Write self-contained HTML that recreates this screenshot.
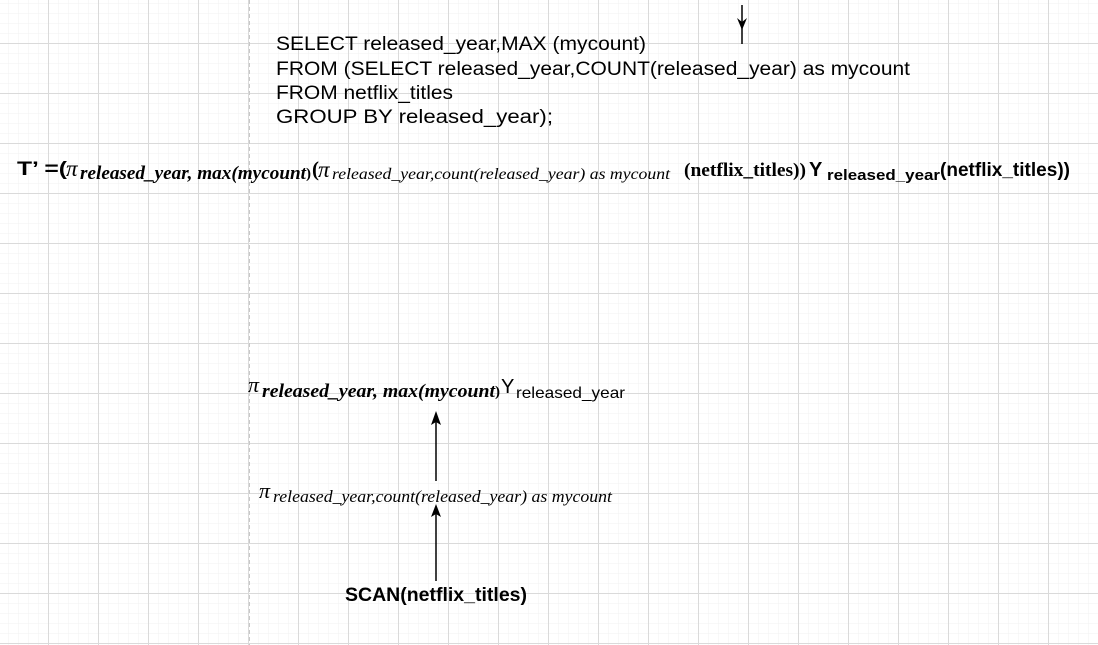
<!DOCTYPE html>
<html><head><meta charset="utf-8"><style>
html,body{margin:0;padding:0;background:#fff;}
svg{display:block;}
.sans{font-family:"Liberation Sans",sans-serif;}
.serif{font-family:"Liberation Serif",serif;}
</style></head><body>
<svg width="1098" height="645" xmlns="http://www.w3.org/2000/svg">
<defs>
<pattern id="minor" x="8" y="3" width="10" height="10" patternUnits="userSpaceOnUse">
<path d="M0 0V10M0 0H10" stroke="#f2f2f2" stroke-width="1" fill="none"/>
</pattern>
<pattern id="major" x="48" y="43" width="50" height="50" patternUnits="userSpaceOnUse">
<path d="M0.5 0V50M0 0.5H50" stroke="#dadada" stroke-width="1" fill="none"/>
</pattern>
</defs>
<rect width="1098" height="645" fill="url(#minor)"/>
<rect width="1098" height="645" fill="url(#major)"/>
<line x1="249.5" y1="0" x2="249.5" y2="645" stroke="#c8c8c8" stroke-dasharray="4,3"/>

<!-- top arrow -->
<line x1="742" y1="5" x2="742" y2="44" stroke="#000" stroke-width="1.5"/>
<path d="M737 18 L742 30 L747 18 L742 22 Z" fill="#000"/>

<!-- SQL -->
<g class="sans" font-size="19" fill="#000">
<text x="276" y="50" textLength="370" lengthAdjust="spacingAndGlyphs">SELECT released_year,MAX (mycount)</text>
<text x="276" y="75" textLength="634" lengthAdjust="spacingAndGlyphs">FROM (SELECT released_year,COUNT(released_year) as mycount</text>
<text x="276" y="99" textLength="177" lengthAdjust="spacingAndGlyphs">FROM netflix_titles</text>
<text x="276" y="123" textLength="277" lengthAdjust="spacingAndGlyphs">GROUP BY released_year);</text>
</g>

<!-- formula -->
<text class="sans" x="17" y="175" font-size="19" font-weight="bold" textLength="50" lengthAdjust="spacingAndGlyphs">T’ =(</text>
<text class="serif" x="66" y="176" font-size="23" font-style="italic">π</text>
<text class="serif" x="80" y="179" font-size="19" font-style="italic" font-weight="bold" textLength="226" lengthAdjust="spacingAndGlyphs">released_year, max(mycount</text>
<text class="serif" x="306" y="178" font-size="15" font-weight="bold">)</text>
<text class="serif" x="312" y="176" font-size="21" font-weight="bold">(</text>
<text class="serif" x="318" y="177" font-size="23" font-style="italic">π</text>
<text class="serif" x="332" y="179" font-size="16" font-style="italic" textLength="338" lengthAdjust="spacingAndGlyphs">released_year,count(released_year) as mycount</text>
<text class="serif" x="684" y="176" font-size="19" font-weight="bold" textLength="122" lengthAdjust="spacingAndGlyphs">(netflix_titles))</text>
<text class="sans" x="809" y="176" font-size="20" font-weight="bold">Y</text>
<text class="sans" x="827" y="180" font-size="15" font-weight="bold" textLength="113" lengthAdjust="spacingAndGlyphs">released_year</text>
<text class="sans" x="940" y="176" font-size="19" font-weight="bold" textLength="130" lengthAdjust="spacingAndGlyphs">(netflix_titles))</text>

<!-- tree top node -->
<text class="serif" x="248" y="392" font-size="22" font-style="italic">π</text>
<text class="serif" x="262" y="397" font-size="19" font-style="italic" font-weight="bold" textLength="233" lengthAdjust="spacingAndGlyphs">released_year, max(mycount</text>
<text class="serif" x="495" y="396" font-size="15" font-weight="bold">)</text>
<text class="sans" x="501" y="393" font-size="20">Y</text>
<text class="sans" x="516" y="398" font-size="16" textLength="109" lengthAdjust="spacingAndGlyphs">released_year</text>

<!-- arrows -->
<line x1="436" y1="481" x2="436" y2="420" stroke="#000" stroke-width="1.5"/>
<path d="M431 425 L436 411 L441 425 L436 422 Z" fill="#000"/>
<line x1="436" y1="581" x2="436" y2="512" stroke="#000" stroke-width="1.5"/>
<path d="M431 517 L436 504 L441 517 L436 514 Z" fill="#000"/>

<!-- middle node -->
<text class="serif" x="259" y="498" font-size="22" font-style="italic">π</text>
<text class="serif" x="273" y="502" font-size="17" font-style="italic" textLength="339" lengthAdjust="spacingAndGlyphs">released_year,count(released_year) as mycount</text>

<!-- bottom -->
<text class="sans" x="345" y="601" font-size="19" font-weight="bold" textLength="182" lengthAdjust="spacingAndGlyphs">SCAN(netflix_titles)</text>
</svg>
</body></html>
